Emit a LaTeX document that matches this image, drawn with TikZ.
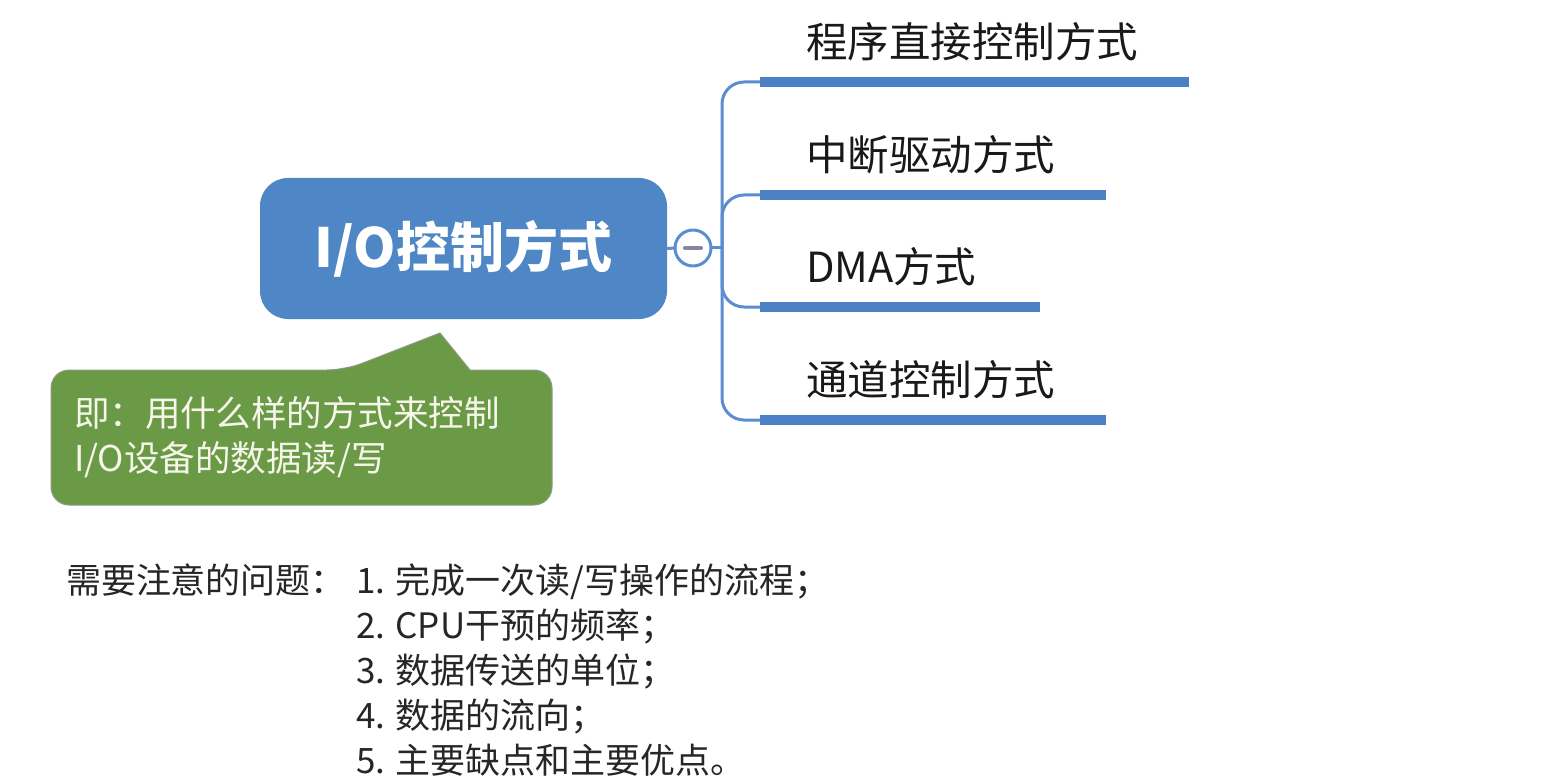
\documentclass[tikz,border=0pt]{standalone}
\usepackage{fontspec}
\setmainfont{Noto Sans CJK SC}
\usetikzlibrary{positioning}
\definecolor{ioblue}{HTML}{4F86C6}
\definecolor{linkblue}{HTML}{5B8DD1}
\definecolor{barblue}{HTML}{4B81C4}
\definecolor{notegreen}{HTML}{6A9A45}
\definecolor{noteedge}{HTML}{8C9A84}
\definecolor{notetext}{HTML}{F6F6EA}
\definecolor{foldmark}{HTML}{8585A6}
\begin{document}
\begin{tikzpicture}[x=1pt,y=-1pt,line join=round,line cap=round,
	every node/.style={inner sep=0pt,outer sep=0pt},
	link/.style={draw=linkblue,line width=3pt,rounded corners=22pt},
	bar/.style={draw=barblue,line width=10pt,line cap=butt},
	branchtext/.style={anchor=west,text=black!90,font=\fontsize{41.5}{48}\selectfont},
	listtext/.style={text=black!85,font=\fontsize{35}{45}\selectfont}]
	\fill[white] (0,0) rectangle (1543,778);
	% zentraler knoten
	\node[fill=ioblue,rounded corners=28pt,minimum width=407pt,minimum height=141pt,text=white,font=\fontsize{54}{60}\selectfont\bfseries] (io) at (463.5,248.5) {I/O控制方式};
	\node[circle,draw=linkblue,line width=3pt,fill=white,minimum size=36pt] (fold) at (693,248) {};
	\draw[foldmark,line width=4pt] ([xshift=-8pt]fold.center) -- ([xshift=8pt]fold.center);
	\coordinate (hub) at (722,248);
	\draw[link] (io.east) -- (fold.west);
	\draw[link] (fold.east) -- (hub);
	% aeste
	\coordinate (b1) at (760,82);
	\coordinate (b2) at (760,195);
	\coordinate (b3) at (760,307);
	\coordinate (b4) at (760,420);
	\foreach \b in {b1,b2,b3,b4}{
		\draw[link] (hub) |- (\b);
	}
	\draw[bar] (b1) -- ++(429,0);
	\draw[bar] (b2) -- ++(346,0);
	\draw[bar] (b3) -- ++(280,0);
	\draw[bar] (b4) -- ++(346,0);
	\node[branchtext] (t1) at (806,42) {程序直接控制方式};
	\node[branchtext] (t2) at (806,155) {中断驱动方式};
	\node[branchtext] (t3) at (806,267) {DMA方式};
	\node[branchtext] (t4) at (806,380) {通道控制方式};
	% notiz
	\draw[fill=notegreen,draw=noteedge,line width=1pt] (51,437) [rounded corners=18pt] |- (345,370) [sharp corners] -- (440,333) -- (470,370) [rounded corners=18pt] -| (552,505) -| (51,437) -- cycle;
	\node[anchor=west,align=left,text=notetext,font=\fontsize{35.5}{45}\selectfont] (note) at (74,437) {即：用什么样的方式来控制\\I/O设备的数据读/写};
	% fragen
	\node[listtext,anchor=west] (ask) at (66,580) {需要注意的问题：};
	\node[listtext,anchor=north west,align=left] (items) at ([xshift=10pt]ask.north east) {1. 完成一次读/写操作的流程；\\2. CPU干预的频率；\\3. 数据传送的单位；\\4. 数据的流向；\\5. 主要缺点和主要优点。};
\end{tikzpicture}
\end{document}
